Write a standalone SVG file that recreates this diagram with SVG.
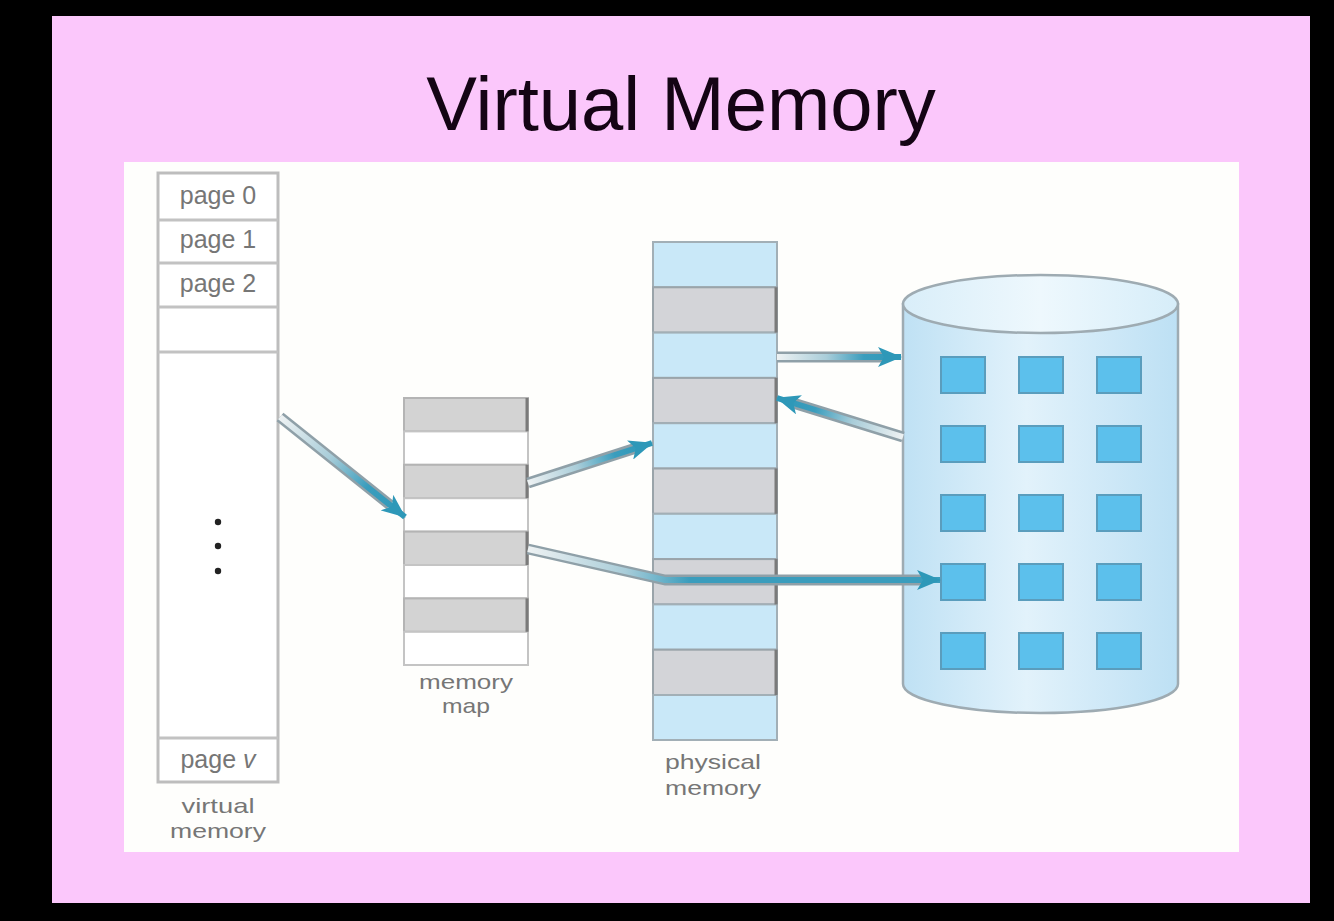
<svg xmlns="http://www.w3.org/2000/svg" width="1334" height="921" viewBox="0 0 1334 921">
<style>
.lbl{font-family:"Liberation Sans",Arial,sans-serif;font-size:25px;fill:#767676;text-anchor:middle}
.cap{font-family:"Liberation Sans",Arial,sans-serif;font-size:21px;fill:#767676;text-anchor:middle}
.title{font-family:"Liberation Sans",Arial,sans-serif;font-size:76px;fill:#140414;text-anchor:middle}
.vline{stroke:#c2c2c2;stroke-width:3}
.mgray{fill:#d3d3d3;stroke:#b4b4b4;stroke-width:2}
.mwhite{fill:#ffffff;stroke:#c4c4c4;stroke-width:2}
.pblue{fill:#c9e8f8;stroke:#a2afb6;stroke-width:2}
.pgray{fill:#d3d4d8;stroke:#9aa4aa;stroke-width:2}
.edge{stroke:#7a7a7a;stroke-width:3}
.sq{fill:#5cc0ec;stroke:#5a9dbd;stroke-width:2}
.outer{fill:none;stroke:#8fa0a8;stroke-width:11;stroke-linejoin:round}
.inner{fill:none;stroke-width:6;stroke-linejoin:round}
</style>
<defs>
<marker id="head" markerUnits="userSpaceOnUse" viewBox="0 0 24 20" refX="23" refY="10" markerWidth="24" markerHeight="20" orient="auto">
<path d="M0,0 L24,10 L0,20 L6,10 Z" fill="#2e98b8"/>
</marker>
<linearGradient id="cyl" x1="0" y1="0" x2="1" y2="0">
<stop offset="0" stop-color="#bfe1f4"/>
<stop offset="0.45" stop-color="#e2f2fb"/>
<stop offset="1" stop-color="#bde0f4"/>
</linearGradient>
<linearGradient id="cyltop" x1="0" y1="0" x2="1" y2="0">
<stop offset="0" stop-color="#d9eef9"/>
<stop offset="0.5" stop-color="#eef8fd"/>
<stop offset="1" stop-color="#d6edf9"/>
</linearGradient>
<linearGradient id="g1" gradientUnits="userSpaceOnUse" x1="280" y1="417" x2="405" y2="517">
<stop offset="0" stop-color="#eef2f3"/><stop offset="0.4" stop-color="#a9cdd9"/><stop offset="0.7" stop-color="#3a9dbd"/><stop offset="1" stop-color="#2e98b8"/>
</linearGradient>
<linearGradient id="g2" gradientUnits="userSpaceOnUse" x1="528" y1="483" x2="652" y2="443">
<stop offset="0" stop-color="#eef2f3"/><stop offset="0.4" stop-color="#a9cdd9"/><stop offset="0.7" stop-color="#3a9dbd"/><stop offset="1" stop-color="#2e98b8"/>
</linearGradient>
<linearGradient id="g3" gradientUnits="userSpaceOnUse" x1="528" y1="0" x2="690" y2="0">
<stop offset="0" stop-color="#eef2f3"/><stop offset="0.6" stop-color="#a9cdd9"/><stop offset="1" stop-color="#3a9dbd"/>
</linearGradient>
<linearGradient id="g4" gradientUnits="userSpaceOnUse" x1="777" y1="0" x2="901" y2="0">
<stop offset="0" stop-color="#eef2f3"/><stop offset="0.4" stop-color="#a9cdd9"/><stop offset="0.7" stop-color="#3a9dbd"/><stop offset="1" stop-color="#2e98b8"/>
</linearGradient>
<linearGradient id="g5" gradientUnits="userSpaceOnUse" x1="903" y1="437" x2="777" y2="398">
<stop offset="0" stop-color="#eef2f3"/><stop offset="0.4" stop-color="#a9cdd9"/><stop offset="0.7" stop-color="#3a9dbd"/><stop offset="1" stop-color="#2e98b8"/>
</linearGradient>
</defs>

<g id="background">
<rect x="0" y="0" width="1334" height="921" fill="#000000"/>
<rect x="52" y="16" width="1258" height="887" fill="#fbc7fb"/>
<rect x="124" y="162" width="1115" height="690" fill="#fefefc"/>
</g>

<g id="title">
<text class="title" x="681" y="130">Virtual Memory</text>
</g>

<g id="virtual-memory">
<rect x="158" y="173" width="120" height="609" fill="#ffffff" stroke="#bdbdbd" stroke-width="3"/>
<line class="vline" x1="158" y1="220" x2="278" y2="220"/>
<line class="vline" x1="158" y1="263" x2="278" y2="263"/>
<line class="vline" x1="158" y1="307" x2="278" y2="307"/>
<line class="vline" x1="158" y1="352" x2="278" y2="352"/>
<line class="vline" x1="158" y1="738" x2="278" y2="738"/>
<text class="lbl" x="218" y="204">page 0</text>
<text class="lbl" x="218" y="248">page 1</text>
<text class="lbl" x="218" y="292">page 2</text>
<text class="lbl" x="218" y="768">page <tspan font-style="italic">v</tspan></text>
<circle cx="218" cy="522" r="3.2" fill="#222"/>
<circle cx="218" cy="546" r="3.2" fill="#222"/>
<circle cx="218" cy="571" r="3.2" fill="#222"/>
<text class="cap" x="218" y="813" textLength="73" lengthAdjust="spacingAndGlyphs">virtual</text>
<text class="cap" x="218" y="838" textLength="96" lengthAdjust="spacingAndGlyphs">memory</text>
</g>

<g id="memory-map">
<rect class="mgray" x="404" y="398" width="124" height="33.4"/>
<rect class="mwhite" x="404" y="431.4" width="124" height="33.4"/>
<rect class="mgray" x="404" y="464.8" width="124" height="33.4"/>
<rect class="mwhite" x="404" y="498.2" width="124" height="33.4"/>
<rect class="mgray" x="404" y="531.6" width="124" height="33.4"/>
<rect class="mwhite" x="404" y="565" width="124" height="33.4"/>
<rect class="mgray" x="404" y="598.4" width="124" height="33.4"/>
<rect class="mwhite" x="404" y="631.8" width="124" height="33.2"/>
<line class="edge" x1="527" y1="398" x2="527" y2="431.4"/>
<line class="edge" x1="527" y1="464.8" x2="527" y2="498.2"/>
<line class="edge" x1="527" y1="531.6" x2="527" y2="565"/>
<line class="edge" x1="527" y1="598.4" x2="527" y2="631.8"/>
<text class="cap" x="466" y="689" textLength="94" lengthAdjust="spacingAndGlyphs">memory</text>
<text class="cap" x="466" y="713" textLength="48" lengthAdjust="spacingAndGlyphs">map</text>
</g>

<g id="physical-memory">
<rect class="pblue" x="653" y="242" width="124" height="45.3"/>
<rect class="pgray" x="653" y="287.3" width="124" height="45.3"/>
<rect class="pblue" x="653" y="332.6" width="124" height="45.3"/>
<rect class="pgray" x="653" y="377.9" width="124" height="45.3"/>
<rect class="pblue" x="653" y="423.2" width="124" height="45.3"/>
<rect class="pgray" x="653" y="468.5" width="124" height="45.3"/>
<rect class="pblue" x="653" y="513.8" width="124" height="45.3"/>
<rect class="pgray" x="653" y="559.1" width="124" height="45.3"/>
<rect class="pblue" x="653" y="604.4" width="124" height="45.3"/>
<rect class="pgray" x="653" y="649.7" width="124" height="45.3"/>
<rect class="pblue" x="653" y="695" width="124" height="45"/>
<line class="edge" x1="776" y1="287.3" x2="776" y2="332.6"/>
<line class="edge" x1="776" y1="377.9" x2="776" y2="423.2"/>
<line class="edge" x1="776" y1="468.5" x2="776" y2="513.8"/>
<line class="edge" x1="776" y1="559.1" x2="776" y2="604.4"/>
<line class="edge" x1="776" y1="649.7" x2="776" y2="695"/>
<text class="cap" x="713" y="769" textLength="96" lengthAdjust="spacingAndGlyphs">physical</text>
<text class="cap" x="713" y="795" textLength="96" lengthAdjust="spacingAndGlyphs">memory</text>
</g>

<g id="disk">
<path d="M903,304 L903,684 A137.5,29 0 0 0 1178,684 L1178,304 Z" fill="url(#cyl)" stroke="#9eabb2" stroke-width="2.5"/>
<ellipse cx="1040.5" cy="304" rx="137.5" ry="29" fill="url(#cyltop)" stroke="#9eabb2" stroke-width="2.5"/>
<rect class="sq" x="941" y="357" width="44" height="36"/>
<rect class="sq" x="1019" y="357" width="44" height="36"/>
<rect class="sq" x="1097" y="357" width="44" height="36"/>
<rect class="sq" x="941" y="426" width="44" height="36"/>
<rect class="sq" x="1019" y="426" width="44" height="36"/>
<rect class="sq" x="1097" y="426" width="44" height="36"/>
<rect class="sq" x="941" y="495" width="44" height="36"/>
<rect class="sq" x="1019" y="495" width="44" height="36"/>
<rect class="sq" x="1097" y="495" width="44" height="36"/>
<rect class="sq" x="941" y="564" width="44" height="36"/>
<rect class="sq" x="1019" y="564" width="44" height="36"/>
<rect class="sq" x="1097" y="564" width="44" height="36"/>
<rect class="sq" x="941" y="633" width="44" height="36"/>
<rect class="sq" x="1019" y="633" width="44" height="36"/>
<rect class="sq" x="1097" y="633" width="44" height="36"/>
</g>

<g id="connectors">
<path class="outer" d="M280,417 L390,505"/>
<path class="inner" d="M280,417 L405,517" stroke="url(#g1)" marker-end="url(#head)"/>
<path class="outer" d="M528,483 L636,448"/>
<path class="inner" d="M528,483 L652,443" stroke="url(#g2)" marker-end="url(#head)"/>
<path class="outer" d="M528,549 L665,580 L923,580"/>
<path class="inner" d="M528,549 L665,580 L940,580" stroke="url(#g3)" marker-end="url(#head)"/>
<path class="outer" d="M777,357 L884,357"/>
<path class="inner" d="M777,357 L901,357" stroke="url(#g4)" marker-end="url(#head)"/>
<path class="outer" d="M903,437 L793,403"/>
<path class="inner" d="M903,437 L777,398" stroke="url(#g5)" marker-end="url(#head)"/>
</g>
</svg>
